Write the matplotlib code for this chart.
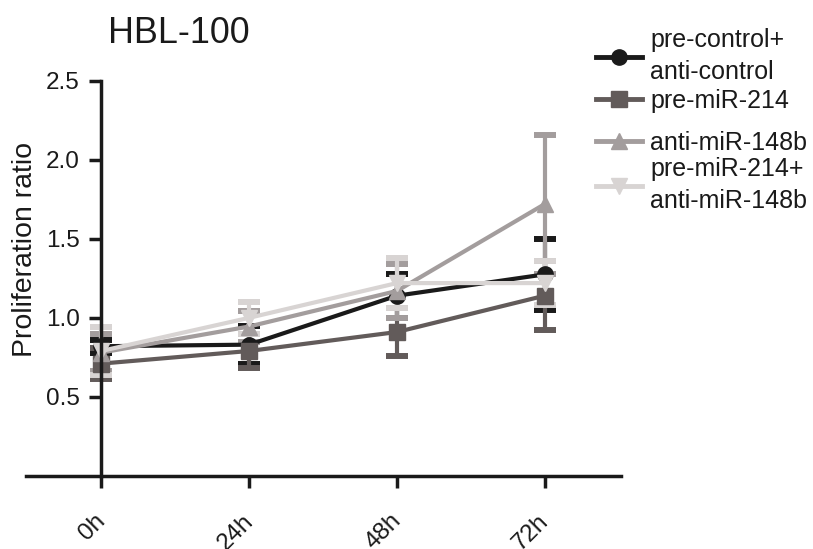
import matplotlib
matplotlib.use("Agg")
import matplotlib.pyplot as plt
import matplotlib.transforms as mtransforms
from matplotlib.lines import Line2D

plt.rcParams['font.family'] = ['Liberation Sans', 'DejaVu Sans']

# data (mean +/- error)
times = ["0h", "24h", "48h", "72h"]
labels = ["pre-control+\nanti-control", "pre-miR-214",
          "anti-miR-148b", "pre-miR-214+\nanti-miR-148b"]

ctrl_mean = [0.82, 0.83, 1.14, 1.275]
ctrl_err = [0.04, 0.12, 0.14, 0.225]
pre214_mean = [0.71, 0.79, 0.91, 1.14]
pre214_err = [0.10, 0.11, 0.155, 0.22]
anti148_mean = [0.78, 0.945, 1.17, 1.72]
anti148_err = [0.12, 0.10, 0.17, 0.44]
combo_mean = [0.79, 1.00, 1.22, 1.22]
combo_err = [0.15, 0.10, 0.16, 0.14]

means = [ctrl_mean, pre214_mean, anti148_mean, combo_mean]
errs = [ctrl_err, pre214_err, anti148_err, combo_err]
colors = ["#1a1a1a", "#625b5a", "#a39d9d", "#d8d4d3"]
markers = ["o", "s", "^", "v"]
# legend entry centres (figure pixels from top)
leg_y = [56, 101, 143, 185]

fig = plt.figure(figsize=(8.13, 5.49), dpi=100)
ax = fig.add_axes([0.032, 0.1335, 0.7315, 0.719])

x = list(range(len(times)))
for m, e, c, mk in zip(means, errs, colors, markers):
    ax.errorbar(x, m, yerr=e, color=c, lw=3, marker=mk, ms=11,
                capsize=8, capthick=4.3, elinewidth=3, clip_on=False)

ax.set_xlim(-0.51, 3.515)
ax.set_ylim(0, 2.5)
ax.spines['left'].set_position(('data', 0))
ax.spines['top'].set_visible(False)
ax.spines['right'].set_visible(False)
for s in ['left', 'bottom']:
    ax.spines[s].set_linewidth(2.5)
    ax.spines[s].set_color("#1a1a1a")

ax.set_xticks(x)
ax.set_xticklabels(times, rotation=45, ha='right', rotation_mode='default')
ax.set_yticks([0.5, 1.0, 1.5, 2.0, 2.5])
ax.set_yticklabels(["0.5", "1.0", "1.5", "2.0", "2.5"])
ax.tick_params(axis='both', direction='out', length=8.6, width=2.5,
               color="#1a1a1a", labelsize=17.5, labelcolor="#1a1a1a")
ax.tick_params(axis='x', pad=16)
ax.tick_params(axis='y', pad=7)
shift = mtransforms.ScaledTranslation(0.085, 0, fig.dpi_scale_trans)
for t in ax.get_xticklabels():
    t.set_transform(t.get_transform() + shift)

fig.text(25 / 813, 1 - 249 / 549, "Proliferation ratio", rotation=90,
         ha='center', va='center', fontsize=20.5, color="#1a1a1a")
fig.text(108 / 813, 1 - 43 / 549, "HBL-100", ha='left', va='baseline',
         fontsize=25.8, color="#1a1a1a")

for lab, c, mk, yy in zip(labels, colors, markers, leg_y):
    h = Line2D([], [], color=c, lw=3.5, marker=mk, ms=11)
    lg = fig.legend(handles=[h], labels=[lab], loc='center left',
                    bbox_to_anchor=(596 / 813, 1 - yy / 549), frameon=False,
                    fontsize=18, handlelength=1.84, handletextpad=0.32,
                    borderpad=0, borderaxespad=0, labelcolor="#1a1a1a")
    for t in lg.get_texts():
        t.set_linespacing(1.4)

fig.savefig("out.png", dpi=100)
